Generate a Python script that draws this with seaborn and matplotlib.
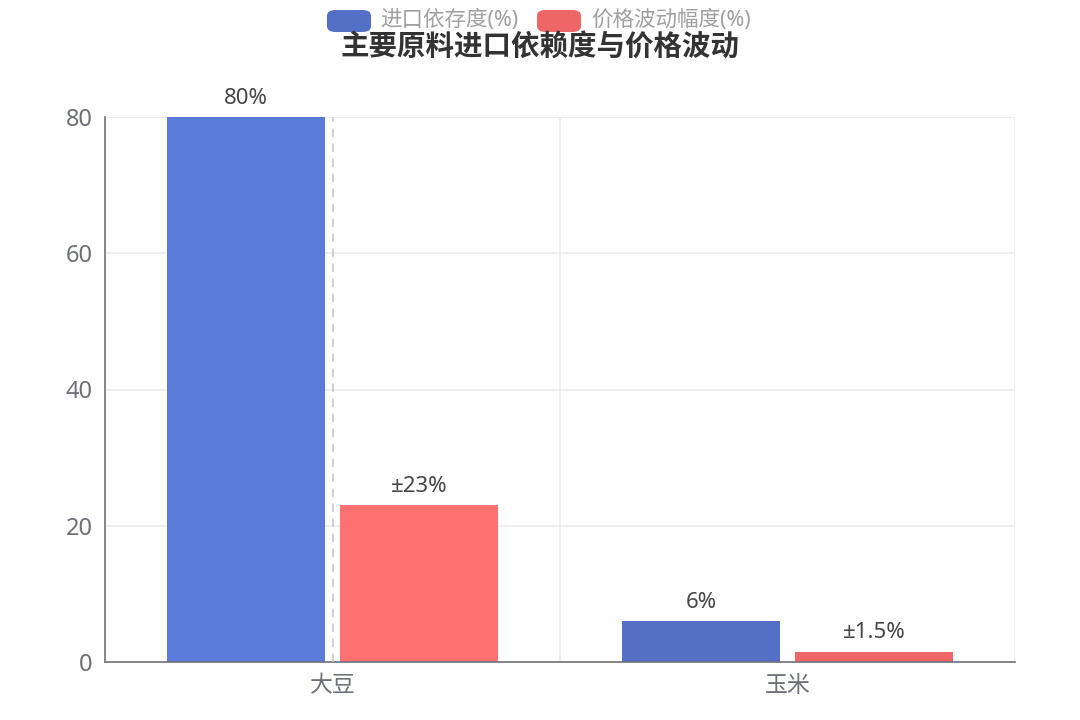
import pandas as pd
import seaborn as sns
import matplotlib.pyplot as plt
from matplotlib.patches import FancyBboxPatch

# data
categories = ["大豆", "玉米"]
series_names = ["进口依存度(%)", "价格波动幅度(%)"]
import_dependence = [80, 6]
price_volatility = [23, 1.5]
bar_labels = [["80%", "6%"], ["±23%", "±1.5%"]]

title = "主要原料进口依赖度与价格波动"
colors = ["#5470c6", "#ee6666"]
hover_colors = ["#5b7bd8", "#ff7070"]

df = pd.DataFrame({
    "category": categories * 2,
    "series": [series_names[0]] * 2 + [series_names[1]] * 2,
    "value": import_dependence + price_volatility,
})

sns.set_theme(style="white")
plt.rcParams["font.family"] = ["Noto Sans", "Noto Sans CJK SC", "DejaVu Sans"]

fig = plt.figure(figsize=(10.8, 7.2), dpi=100)
W, H = 1080, 720
ax = fig.add_axes([105 / W, 1 - 662 / H, (1015 - 105) / W, (662 - 117) / H])

sns.barplot(data=df, x="category", y="value", hue="series", order=categories,
            hue_order=series_names, palette=colors, width=0.76, gap=0.087,
            saturation=1, legend=False, ax=ax)

# first category shown in its hover (emphasis) state
for i, cont in enumerate(ax.containers):
    cont[0].set_facecolor(hover_colors[i])
    for p in cont:
        p.set_edgecolor("none")
    ax.bar_label(cont, labels=bar_labels[i], padding=6, fontsize=16,
                 color="#464646")

ax.set_xlim(-0.5, 1.5)
ax.set_ylim(0, 80)
ax.set_yticks([0, 20, 40, 60, 80])
ax.set_xlabel("")
ax.set_ylabel("")

# grid
for y in [20, 40, 60, 80]:
    ax.axhline(y, color="#e9ebf0", lw=1.2, zorder=0)
for x in [0.5, 1.5]:
    ax.axvline(x, color="#e9ebf0", lw=1.2, zorder=0)
# axis pointer
ax.axvline(0, color="#c6c8cc", lw=1.2, ls=(0, (5, 4)), zorder=3)

for s in ["top", "right"]:
    ax.spines[s].set_visible(False)
ax.spines["left"].set_color("#6e7079")
ax.spines["bottom"].set_color("#6e7079")
ax.spines["left"].set_linewidth(1.2)
ax.spines["bottom"].set_linewidth(1.2)

ax.tick_params(axis="y", length=0, pad=9, labelsize=17, labelcolor="#6e7079")
ax.tick_params(axis="x", length=0, pad=9, labelsize=16.5, labelcolor="#6e7079")

# title
fig.text(540 / W, 1 - 47 / H, title, ha="center", va="center", fontsize=20.5,
         fontweight="bold", color="#333333")

# legend
legend_items = [(327, 380), (537, 591)]
for (ix, tx), name, c in zip(legend_items, series_names, colors):
    fig.patches.append(FancyBboxPatch(
        (ix / W, 1 - 32 / H), 44 / W, 22 / H,
        boxstyle="round,pad=0,rounding_size=0.008", transform=fig.transFigure,
        facecolor=c, edgecolor="none"))
    fig.text(tx / W, 1 - 20 / H, name, ha="left", va="center", fontsize=15.5,
             color="#a0a0a0")

fig.savefig("out.png", dpi=100)
